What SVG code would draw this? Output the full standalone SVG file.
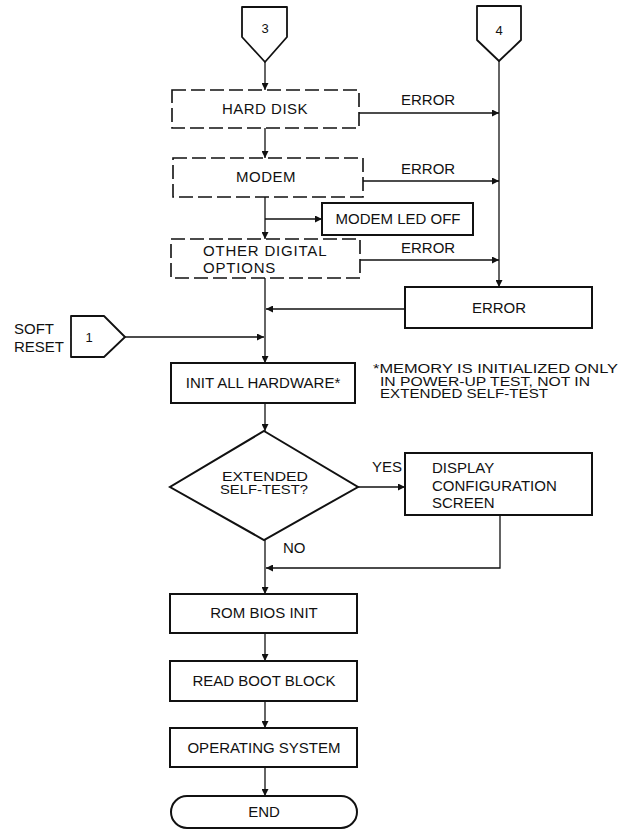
<svg xmlns="http://www.w3.org/2000/svg" width="622" height="832" viewBox="0 0 622 832">
<defs>
<marker id="ah" viewBox="0 0 10 10" refX="10" refY="5" markerWidth="9" markerHeight="7" orient="auto" markerUnits="userSpaceOnUse"><path d="M0,0 L10,5 L0,10 z" fill="#111"/></marker>
<style>
text{font-family:"Liberation Sans",Arial,Helvetica,sans-serif;fill:#111;font-size:15px}
.c{text-anchor:middle}
.sm{font-size:13px}
.nt{font-size:12px}
.dt{font-size:12.5px}
.box{fill:#fff;stroke:#111;stroke-width:2}
.dash{fill:#fff;stroke:#111;stroke-width:1.6;stroke-dasharray:14 5}
.conn{fill:#fff;stroke:#111;stroke-width:1.8;stroke-linejoin:round}
.ln{fill:none;stroke:#111;stroke-width:1.3}
.ar{marker-end:url(#ah)}
</style>
</defs>
<rect width="622" height="832" fill="#fff"/>
<g id="connectors">
<path class="ln ar" d="M265,62 V90"/>
<path class="ln ar" d="M265,128 V158"/>
<path class="ln ar" d="M265,197 V239"/>
<path class="ln ar" d="M265,219 H322"/>
<path class="ln ar" d="M265,278 V363"/>
<path class="ln ar" d="M359,113 H499"/>
<path class="ln ar" d="M363,181 H499"/>
<path class="ln ar" d="M360,260 H499"/>
<path class="ln ar" d="M499,61 V287"/>
<path class="ln ar" d="M405,309 H266"/>
<path class="ln ar" d="M125,337 H264"/>
<path class="ln ar" d="M265,403 V431"/>
<path class="ln ar" d="M358,487 H405"/>
<path class="ln ar" d="M265,540 V594"/>
<path class="ln ar" d="M500,515 V568 H266"/>
<path class="ln ar" d="M265,633 V661"/>
<path class="ln ar" d="M265,701 V728"/>
<path class="ln ar" d="M265,767 V796"/>
<text x="401" y="105">ERROR</text>
<text x="401" y="174">ERROR</text>
<text x="401" y="253">ERROR</text>
<text x="372" y="472">YES</text>
<text x="283" y="553">NO</text>
</g>
<g id="c3">
<path class="conn" d="M242,7 H287 V37 L265,62 L242,37 Z"/>
<text class="c sm" x="265" y="33">3</text>
</g>
<g id="c4">
<path class="conn" d="M477,6 H521 V40 L499,61 L477,40 Z"/>
<text class="c sm" x="499" y="35">4</text>
</g>
<g id="harddisk">
<rect class="dash" x="172" y="90" width="187" height="38"/>
<text class="c" x="265" y="114" letter-spacing="0.5">HARD DISK</text>
</g>
<g id="modem">
<rect class="dash" x="173" y="158" width="190" height="39"/>
<text class="c" x="266" y="182" letter-spacing="0.5">MODEM</text>
</g>
<g id="modemled">
<rect class="box" x="322" y="203" width="151" height="32"/>
<text class="c" x="398" y="224">MODEM LED OFF</text>
</g>
<g id="otherdigital">
<rect class="dash" x="171" y="239" width="189" height="39"/>
<text x="203" y="256" letter-spacing="0.8">OTHER DIGITAL</text>
<text x="203" y="273" letter-spacing="0.8">OPTIONS</text>
</g>
<g id="errorbox">
<rect class="box" x="405" y="287" width="187" height="41"/>
<text class="c" x="499" y="313">ERROR</text>
</g>
<g id="c1">
<path class="conn" d="M71,316 H104 L125,337 L104,357 H71 Z"/>
<text class="c sm" x="89" y="342">1</text>
<text x="14" y="334">SOFT</text>
<text x="14" y="352">RESET</text>
</g>
<g id="inithw">
<rect class="box" x="171" y="363" width="184" height="40"/>
<text class="c" x="263" y="388">INIT ALL HARDWARE*</text>
</g>
<g id="note">
<text class="nt" x="373" y="373" textLength="245" lengthAdjust="spacingAndGlyphs">*MEMORY IS INITIALIZED ONLY</text>
<text class="nt" x="380" y="385.5" textLength="210" lengthAdjust="spacingAndGlyphs">IN POWER-UP  TEST, NOT IN</text>
<text class="nt" x="380" y="398" textLength="168" lengthAdjust="spacingAndGlyphs">EXTENDED SELF-TEST</text>
</g>
<g id="decision">
<path class="box" d="M264,431 L358,487 L264,540 L170,487 Z"/>
<text class="c dt" x="265" y="481" textLength="86" lengthAdjust="spacingAndGlyphs">EXTENDED</text>
<text class="c dt" x="264" y="494" textLength="88" lengthAdjust="spacingAndGlyphs">SELF-TEST?</text>
</g>
<g id="display">
<rect class="box" x="405" y="453" width="187" height="62"/>
<text x="432" y="473">DISPLAY</text>
<text x="432" y="491">CONFIGURATION</text>
<text x="432" y="508">SCREEN</text>
</g>
<g id="rombios">
<rect class="box" x="170" y="594" width="187" height="39"/>
<text class="c" x="264" y="618">ROM BIOS INIT</text>
</g>
<g id="readboot">
<rect class="box" x="170" y="661" width="187" height="40"/>
<text class="c" x="264" y="686">READ BOOT BLOCK</text>
</g>
<g id="os">
<rect class="box" x="170" y="728" width="187" height="39"/>
<text class="c" x="264" y="753">OPERATING SYSTEM</text>
</g>
<g id="end">
<rect class="box" x="171" y="796" width="186" height="32" rx="16"/>
<text class="c" x="264" y="817">END</text>
</g>
</svg>
